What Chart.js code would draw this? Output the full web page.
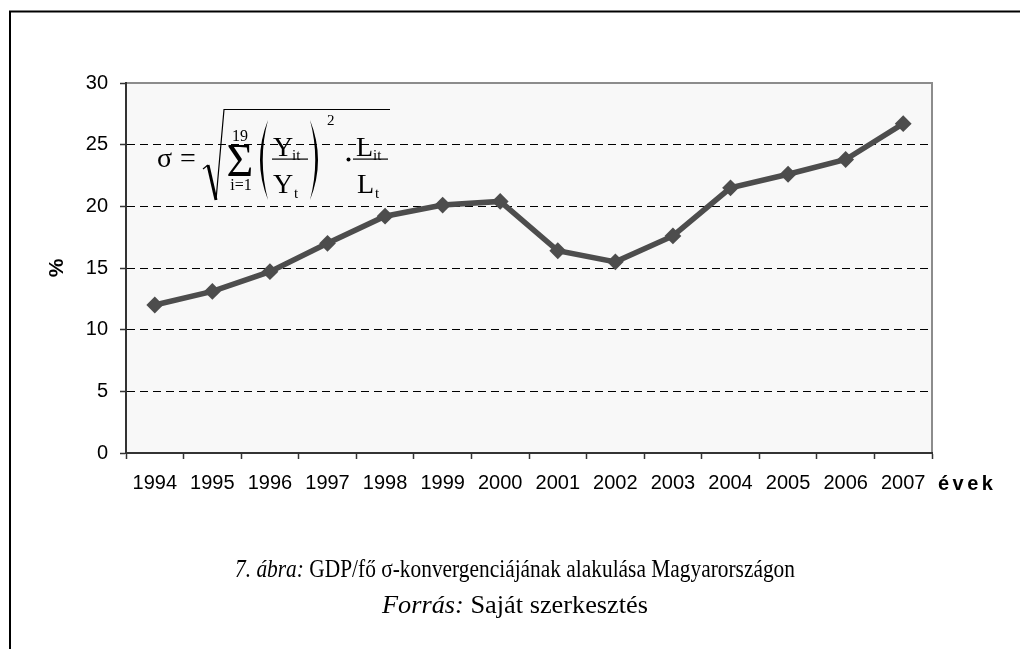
<!DOCTYPE html>
<html>
<head>
<meta charset="utf-8">
<script src="https://cdn.jsdelivr.net/npm/chart.js@4/dist/chart.umd.min.js"></script>
<style>
  body { margin: 0; background: #fff; }
  #wrap { width: 1020px; height: 649px; }
</style>
</head>
<body>
<div id="wrap"><canvas id="sigmaChart" width="1020" height="649"></canvas></div>
<script>
// years and sigma-convergence values (%)
var years = ["1994", "1995", "1996", "1997", "1998", "1999", "2000", "2001", "2002", "2003", "2004", "2005", "2006", "2007"];
var sigmaValues = [12.0, 13.1, 14.7, 17.0, 19.2, 20.1, 20.4, 16.4, 15.5, 17.6, 21.5, 22.6, 23.8, 26.7];
var yTicks = [0, 5, 10, 15, 20, 25, 30];

var SANS = '"Liberation Sans", Arial, sans-serif';
var SERIF = '"Liberation Serif", "Times New Roman", serif';

// draws a row of [text, italic] parts centered on cx, squeezed to width w if given
function drawMixed(ctx, parts, cx, y, size, w) {
  var total = 0;
  parts.forEach(function (p) {
    ctx.font = (p[1] ? "italic " : "") + size + "px " + SERIF;
    total += ctx.measureText(p[0]).width;
  });
  var sx = w ? w / total : 1;
  ctx.save();
  ctx.translate(cx - (total * sx) / 2, y);
  ctx.scale(sx, 1);
  var x = 0;
  parts.forEach(function (p) {
    ctx.font = (p[1] ? "italic " : "") + size + "px " + SERIF;
    ctx.fillText(p[0], x, 0);
    x += ctx.measureText(p[0]).width;
  });
  ctx.restore();
}

function paren(ctx, x, top, bottom, dir) {
  // dir = 1 for "(", -1 for ")"
  var mid = (top + bottom) / 2;
  ctx.beginPath();
  ctx.moveTo(x, top);
  ctx.quadraticCurveTo(x - dir * 16, mid, x, bottom);
  ctx.quadraticCurveTo(x - dir * 10.5, mid, x, top);
  ctx.fill();
}

var decorPlugin = {
  id: "decor",
  beforeDraw: function (chart) {
    var ctx = chart.ctx, a = chart.chartArea;
    ctx.save();
    ctx.fillStyle = "#f8f8f8";
    ctx.fillRect(a.left, a.top, a.right - a.left, a.bottom - a.top);
    ctx.strokeStyle = "#8c8c8c";
    ctx.lineWidth = 2;
    ctx.beginPath();
    ctx.moveTo(a.left, a.top);
    ctx.lineTo(a.right, a.top);
    ctx.lineTo(a.right, a.bottom);
    ctx.stroke();
    ctx.restore();
  },
  afterDraw: function (chart) {
    var ctx = chart.ctx, a = chart.chartArea;
    ctx.save();
    ctx.fillStyle = "#000";
    ctx.strokeStyle = "#000";

    // outer frame (top and left)
    ctx.lineWidth = 2;
    ctx.beginPath();
    ctx.moveTo(1020, 11.5);
    ctx.lineTo(10, 11.5);
    ctx.lineTo(10, 649);
    ctx.stroke();

    // y axis title
    ctx.save();
    ctx.translate(57, (a.top + a.bottom) / 2);
    ctx.rotate(-Math.PI / 2);
    ctx.font = "bold 21px " + SANS;
    ctx.textAlign = "center";
    ctx.textBaseline = "middle";
    ctx.fillText("%", 0, 0);
    ctx.restore();

    // x axis title, spaced letters
    ctx.font = "bold 20px " + SANS;
    ctx.textBaseline = "alphabetic";
    var tx = 938;
    "évek".split("").forEach(function (ch) {
      ctx.fillText(ch, tx, 490);
      tx += ctx.measureText(ch).width + 3.5;
    });

    // formula
    ctx.textAlign = "left";
    ctx.font = "28px " + SERIF;
    ctx.fillText("σ", 157, 167);
    ctx.fillText("=", 180, 167);

    // radical sign
    ctx.lineJoin = "miter";
    ctx.lineWidth = 1.2;
    ctx.beginPath();
    ctx.moveTo(203, 169);
    ctx.lineTo(208, 165);
    ctx.stroke();
    ctx.lineWidth = 3;
    ctx.beginPath();
    ctx.moveTo(208, 165);
    ctx.lineTo(216, 200);
    ctx.stroke();
    ctx.lineWidth = 1.2;
    ctx.beginPath();
    ctx.moveTo(216, 200);
    ctx.lineTo(224, 109.5);
    ctx.lineTo(390, 109.5);
    ctx.stroke();

    // summation
    ctx.textAlign = "center";
    ctx.font = "46px " + SERIF;
    ctx.fillText("Σ", 240, 176);
    ctx.font = "16px " + SERIF;
    ctx.fillText("19", 240, 141);
    ctx.fillText("i=1", 241, 190);

    // parentheses
    paren(ctx, 268, 120, 200, 1);
    paren(ctx, 310, 120, 200, -1);

    // Y fraction
    ctx.textAlign = "left";
    ctx.font = "28px " + SERIF;
    ctx.fillText("Y", 273, 156);
    ctx.fillText("Y", 273, 193);
    ctx.font = "15px " + SERIF;
    ctx.fillText("it", 292, 160);
    ctx.fillText("t", 294, 198);
    ctx.fillRect(272, 158.5, 36, 1.2);
    ctx.fillText("2", 327, 125);

    // dot
    ctx.beginPath();
    ctx.arc(348.5, 159.5, 2, 0, Math.PI * 2);
    ctx.fill();

    // L fraction
    ctx.font = "28px " + SERIF;
    ctx.fillText("L", 356, 156);
    ctx.fillText("L", 357, 193);
    ctx.font = "15px " + SERIF;
    ctx.fillText("it", 373, 160);
    ctx.fillText("t", 375, 198);
    ctx.fillRect(353, 158.5, 35, 1.2);

    // caption
    ctx.textAlign = "left";
    drawMixed(ctx, [["7. ábra:", true], [" GDP/fő σ-konvergenciájának alakulása Magyarországon", false]], 515, 577, 26, 560);
    drawMixed(ctx, [["Forrás:", true], [" Saját szerkesztés", false]], 515, 613, 26, 266);
    ctx.restore();
  }
};

var ctx = document.getElementById("sigmaChart").getContext("2d");

var sigmaChart = new Chart(ctx, {
  type: "line",
  data: {
    labels: years,
    datasets: [
      {
        data: sigmaValues,
        borderColor: "#4d4d4d",
        backgroundColor: "#4d4d4d",
        borderWidth: 5.5,
        tension: 0,
        pointStyle: "rectRot",
        pointRadius: 7,
        pointBorderWidth: 2,
        pointBackgroundColor: "#4d4d4d",
        pointBorderColor: "#4d4d4d",
        clip: false,
      },
    ],
  },
  options: {
    responsive: false,
    animation: false,
    layout: {
      padding: { top: 83, right: 88, left: 0, bottom: 0 },
    },
    plugins: {
      legend: { display: false },
      tooltip: { enabled: false },
    },
    scales: {
      x: {
        type: "category",
        offset: true,
        afterFit: function (scale) {
          scale.height = 196;
        },
        grid: {
          offset: true,
          drawOnChartArea: false,
          drawTicks: true,
          tickLength: 6,
          tickColor: "#333",
          tickWidth: 1.5,
        },
        border: { color: "#333", width: 2 },
        ticks: {
          color: "#000",
          font: { family: SANS, size: 20 },
          padding: 12,
          autoSkip: false,
          maxRotation: 0,
        },
      },
      y: {
        min: 0,
        max: 30,
        afterFit: function (scale) {
          scale.width = 126;
        },
        afterBuildTicks: function (scale) {
          scale.ticks = yTicks.map(function (v) { return { value: v }; });
        },
        grid: {
          color: function (c) {
            var v = c.tick ? c.tick.value : null;
            return v === 0 || v === 30 ? "rgba(0,0,0,0)" : "#000";
          },
          lineWidth: 1,
          tickLength: 6,
          tickColor: "#333",
          tickWidth: 1.5,
        },
        border: { color: "#333", width: 2, dash: [8, 5] },
        ticks: {
          color: "#000",
          font: { family: SANS, size: 20 },
          padding: 12,
        },
      },
    },
  },
  plugins: [decorPlugin],
});
</script>
</body>
</html>
